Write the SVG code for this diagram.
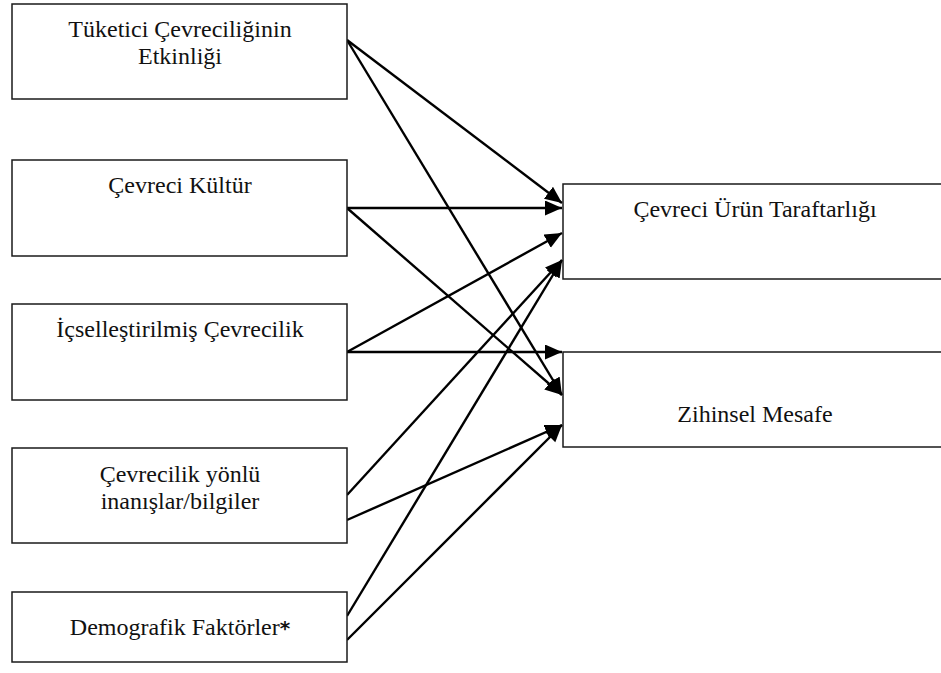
<svg xmlns="http://www.w3.org/2000/svg" width="941" height="673" viewBox="0 0 941 673">
  <style>
    .box { fill: #ffffff; stroke: #1a1a1a; stroke-width: 1.5; }
    .lbl { font-family: 'Liberation Serif', 'Times New Roman', 'DejaVu Serif', serif; font-size: 24px; fill: #111111; text-anchor: middle; }
    .link { stroke: #000000; stroke-width: 2.4; fill: none; marker-end: url(#arrow); }
  </style>
  <defs>
    <marker id="arrow" markerUnits="userSpaceOnUse" markerWidth="18" markerHeight="16" refX="17" refY="7.5" orient="auto">
      <path d="M0,0 L17,7.5 L0,15 z" fill="#000000"/>
    </marker>
  </defs>
  <rect width="941" height="673" fill="#ffffff"/>

  <!-- connectors -->
  <g id="connectors">
    <line class="link" x1="347" y1="40" x2="562" y2="203"/>
    <line class="link" x1="347" y1="40" x2="562" y2="395"/>
    <line class="link" x1="347" y1="208" x2="562" y2="208"/>
    <line class="link" x1="347" y1="208" x2="562" y2="395"/>
    <line class="link" x1="347" y1="352" x2="562" y2="233"/>
    <line class="link" x1="347" y1="352" x2="562" y2="352"/>
    <line class="link" x1="347" y1="495" x2="562" y2="260"/>
    <line class="link" x1="347" y1="520" x2="562" y2="425"/>
    <line class="link" x1="347" y1="616" x2="562" y2="260"/>
    <line class="link" x1="347" y1="640" x2="562" y2="425"/>
  </g>

  <!-- source nodes -->
  <g id="tuketici">
    <rect class="box" x="12" y="4" width="335" height="95"/>
    <text class="lbl" x="180" y="37">Tüketici Çevreciliğinin</text>
    <text class="lbl" x="180" y="64">Etkinliği</text>
  </g>
  <g id="kultur">
    <rect class="box" x="12" y="160" width="335" height="96"/>
    <text class="lbl" x="180" y="193">Çevreci Kültür</text>
  </g>
  <g id="icsellestirilmis">
    <rect class="box" x="12" y="304" width="335" height="96"/>
    <text class="lbl" x="180" y="337">İçselleştirilmiş Çevrecilik</text>
  </g>
  <g id="inanislar">
    <rect class="box" x="12" y="448" width="335" height="95"/>
    <text class="lbl" x="180" y="482">Çevrecilik yönlü</text>
    <text class="lbl" x="180" y="509">inanışlar/bilgiler</text>
  </g>
  <g id="demografik">
    <rect class="box" x="12" y="592" width="335" height="70"/>
    <text class="lbl" x="180" y="635">Demografik Faktörler<tspan font-family="'DejaVu Sans', sans-serif" font-weight="bold" font-size="20">*</tspan></text>
  </g>

  <!-- target nodes -->
  <g id="taraftarlik">
    <rect class="box" x="563" y="184" width="390" height="95"/>
    <text class="lbl" x="755" y="217">Çevreci Ürün Taraftarlığı</text>
  </g>
  <g id="zihinsel">
    <rect class="box" x="563" y="352" width="390" height="95"/>
    <text class="lbl" x="755" y="422">Zihinsel Mesafe</text>
  </g>
</svg>
